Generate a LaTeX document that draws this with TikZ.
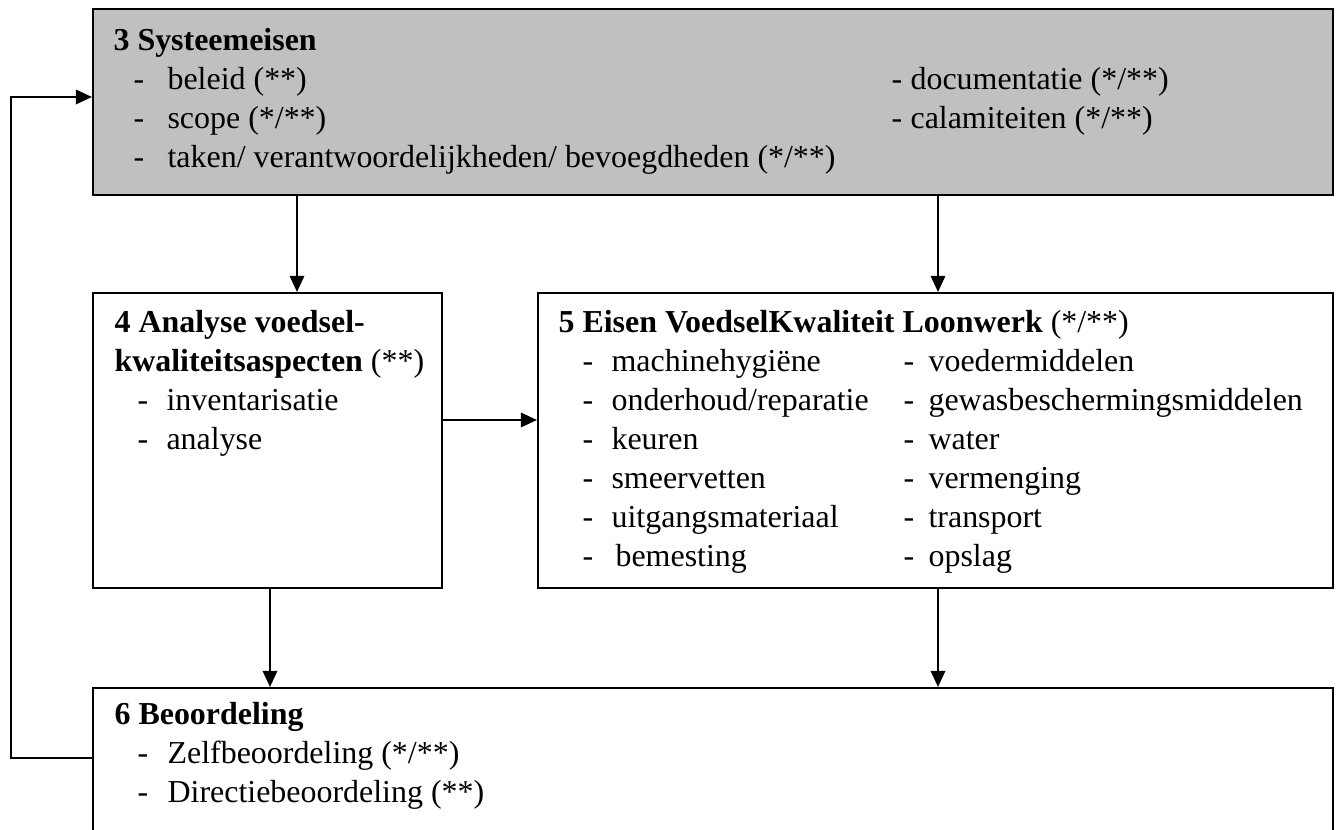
\documentclass[tikz,border=0pt]{standalone}
\usepackage{fontspec}
\setmainfont{Liberation Serif}
\usetikzlibrary{arrows.meta,fit}
\definecolor{boxgray}{RGB}{192,192,192}
\newcommand\itemline[5]{%
  \node[txt] (#1d) at (#2,#4) {-};
  \node[txt] (#1) at (#3,#4) {#5};}
\begin{document}
\begin{tikzpicture}[x={(0.36pt,0pt)},y={(0pt,-0.36pt)},
  box/.style={draw=black,line width=0.75pt,inner sep=0pt},
  txt/.style={anchor=base west,inner sep=0pt,font=\fontsize{11.5}{14}\selectfont},
  arr/.style={line width=0.75pt,-{Triangle[length=5.8pt,width=5.2pt]}}]
\useasboundingbox (0,0) rectangle (1339,830);
\clip (0,0) rectangle (1339,830);
% boxes
\node[box,fill=boxgray,fit={(93,9) (1333,195)}] (b3) {};
\node[box,fit={(93,293) (442,588)}] (b4) {};
\node[box,fit={(538,293) (1333,588)}] (b5) {};
\node[box,fit={(93,688) (1333,900)}] (b6) {};
% box 3 text
\node[txt] (t3) at (113,51) {\bfseries 3 Systeemeisen};
\itemline{b3i1}{133}{167}{90}{beleid (**)}
\itemline{b3i2}{133}{167}{129}{scope (*/**)}
\itemline{b3i3}{133}{167}{168}{taken/ verantwoordelijkheden/ bevoegdheden (*/**)}
\itemline{b3j1}{891}{910}{90}{documentatie (*/**)}
\itemline{b3j2}{891}{910}{129}{calamiteiten (*/**)}
% box 4 text
\node[txt] (t4a) at (114,333) {\bfseries 4 Analyse voedsel-};
\node[txt] (t4b) at (114,372) {\textbf{kwaliteitsaspecten} (**)};
\itemline{b4i1}{137}{166}{411}{inventarisatie}
\itemline{b4i2}{137}{166}{450}{analyse}
% box 5 text
\node[txt] (t5) at (558,333) {\textbf{5 Eisen VoedselKwaliteit Loonwerk} (*/**)};
\itemline{b5i1}{582}{611}{372}{machinehygiëne}
\itemline{b5i2}{582}{611}{411}{onderhoud/reparatie}
\itemline{b5i3}{582}{611}{450}{keuren}
\itemline{b5i4}{582}{611}{489}{smeervetten}
\itemline{b5i5}{582}{611}{528}{uitgangsmateriaal}
\itemline{b5i6}{582}{615}{567}{bemesting}
\itemline{b5j1}{903}{928}{372}{voedermiddelen}
\itemline{b5j2}{903}{928}{411}{gewasbeschermingsmiddelen}
\itemline{b5j3}{903}{928}{450}{water}
\itemline{b5j4}{903}{928}{489}{vermenging}
\itemline{b5j5}{903}{928}{528}{transport}
\itemline{b5j6}{903}{928}{567}{opslag}
% box 6 text
\node[txt] (t6) at (114,725) {\bfseries 6 Beoordeling};
\itemline{b6i1}{137}{167}{764}{Zelfbeoordeling (*/**)}
\itemline{b6i2}{137}{167}{803}{Directiebeoordeling (**)}
% connector guides
\coordinate (c1) at (297,0);
\coordinate (c2) at (938,0);
\coordinate (c3) at (270,0);
\coordinate (h1) at (0,420);
\coordinate (fbl) at (11,758);
\coordinate (fbt) at (11,97);
% connectors
\draw[arr] (b3.south -| c1) -- (b4.north -| c1);
\draw[arr] (b3.south -| c2) -- (b5.north -| c2);
\draw[arr] (b4.east |- h1) -- (b5.west |- h1);
\draw[arr] (b4.south -| c3) -- (b6.north -| c3);
\draw[arr] (b5.south -| c2) -- (b6.north -| c2);
\draw[arr] (b6.west |- fbl) -- (fbl) -- (fbt) -- (b3.west |- fbt);
\end{tikzpicture}
\end{document}
